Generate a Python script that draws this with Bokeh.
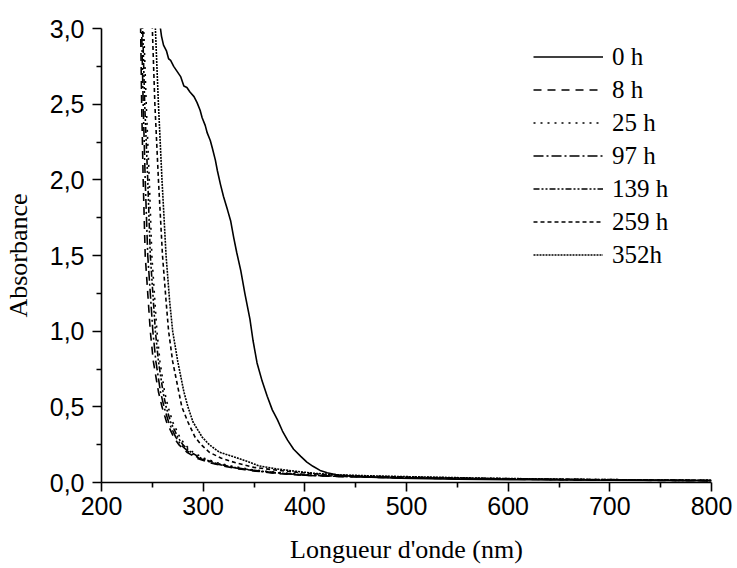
from bokeh.plotting import figure
from bokeh.models import Legend, LegendItem, FixedTicker, CustomJSTickFormatter, Range1d
from bokeh.embed import file_html
from bokeh.resources import INLINE

# ---- data ----
series_names = ["0 h", "8 h", "25 h", "97 h", "139 h", "259 h", "352h"]

wl_0h = [254, 258, 259, 261, 264, 266, 268, 271, 274, 276, 278, 279, 281, 284, 287, 291, 294, 297, 299, 302,
         304, 307, 309, 312, 314, 317, 320, 324, 327, 330, 333, 337, 341, 346, 349, 353, 358, 363, 368, 373,
         378, 383, 389, 396, 402, 408, 415, 422, 432, 445, 465, 494, 550, 620, 700, 800]
abs_0h = [3.3, 3.0, 2.95, 2.89, 2.85, 2.80, 2.79, 2.75, 2.72, 2.70, 2.68, 2.66, 2.62, 2.61, 2.58, 2.55, 2.51, 2.46, 2.41, 2.36,
          2.31, 2.26, 2.21, 2.13, 2.06, 1.97, 1.89, 1.80, 1.73, 1.62, 1.52, 1.40, 1.25, 1.08, 0.94, 0.79, 0.67, 0.57, 0.48, 0.415,
          0.34, 0.28, 0.22, 0.173, 0.135, 0.107, 0.08, 0.064, 0.05, 0.042, 0.035, 0.028, 0.022, 0.018, 0.015, 0.012]

wl_8h = [235, 238.5, 239.5, 241, 243, 246, 248, 251, 256, 259.5, 264, 271, 276, 284, 294, 307, 319, 335, 352, 375,
         400, 430, 470, 520, 580, 650, 720, 800]
abs_8h = [3.3, 3.0, 2.5, 2.0, 1.5, 1.2, 1.0, 0.8, 0.6, 0.5, 0.4, 0.3, 0.25, 0.2, 0.16, 0.13, 0.11, 0.09, 0.075, 0.058,
          0.047, 0.04, 0.034, 0.028, 0.023, 0.019, 0.015, 0.012]

wl_25h = [238, 241.5, 244, 247, 249.5, 252.5, 254.5, 257.5, 262, 265.5, 270, 277, 282, 290, 301, 314, 327, 343, 360, 382,
          400, 430, 470, 520, 580, 650, 720, 800]
abs_25h = [3.3, 3.0, 2.5, 2.0, 1.5, 1.2, 1.0, 0.8, 0.6, 0.5, 0.4, 0.3, 0.25, 0.2, 0.16, 0.13, 0.11, 0.09, 0.075, 0.062,
           0.053, 0.044, 0.037, 0.031, 0.026, 0.021, 0.017, 0.014]

wl_97h = [236, 239.5, 241, 243, 245.5, 248.5, 250.5, 253.5, 258, 261.5, 266, 273, 278, 286, 296, 309, 321, 337, 354, 377,
          400, 430, 470, 520, 580, 650, 720, 800]
abs_97h = [3.3, 3.0, 2.5, 2.0, 1.5, 1.2, 1.0, 0.8, 0.6, 0.5, 0.4, 0.3, 0.25, 0.2, 0.16, 0.13, 0.11, 0.09, 0.075, 0.06,
           0.049, 0.041, 0.035, 0.029, 0.024, 0.02, 0.016, 0.013]

wl_139h = [237, 240.5, 242.5, 245.5, 248, 251, 253, 256, 260.5, 263.5, 268, 275, 280, 288, 298, 311, 323, 339, 356, 379,
           400, 430, 470, 520, 580, 650, 720, 800]
abs_139h = [3.3, 3.0, 2.5, 2.0, 1.5, 1.2, 1.0, 0.8, 0.6, 0.5, 0.4, 0.3, 0.25, 0.2, 0.16, 0.13, 0.11, 0.09, 0.075, 0.06,
            0.05, 0.042, 0.036, 0.03, 0.025, 0.02, 0.016, 0.013]

wl_259h = [247, 250, 252.5, 256, 260, 263.5, 266, 270, 276, 279, 285, 292, 298, 306, 318, 332, 350, 368, 395, 425,
           460, 510, 570, 640, 720, 800]
abs_259h = [3.3, 3.0, 2.5, 2.0, 1.5, 1.2, 1.0, 0.8, 0.6, 0.5, 0.4, 0.3, 0.25, 0.2, 0.16, 0.13, 0.1, 0.085, 0.065, 0.05,
            0.042, 0.035, 0.028, 0.022, 0.018, 0.014]

wl_352h = [250, 253, 256, 259.5, 263.5, 267, 270, 275, 281, 285, 290, 299, 306, 316, 330, 343, 355, 372, 390, 410,
           435, 470, 520, 580, 650, 720, 800]
abs_352h = [3.3, 3.0, 2.5, 2.0, 1.5, 1.2, 1.0, 0.8, 0.6, 0.5, 0.4, 0.3, 0.25, 0.2, 0.17, 0.14, 0.11, 0.09, 0.075, 0.06,
            0.05, 0.043, 0.036, 0.028, 0.022, 0.018, 0.014]

x_ticks = [200, 300, 400, 500, 600, 700, 800]
x_minor = [250, 350, 450, 550, 650, 750]
y_ticks = [0.0, 0.5, 1.0, 1.5, 2.0, 2.5, 3.0]
y_minor = [0.25, 0.75, 1.25, 1.75, 2.25, 2.75]

# ---- styles ----
dashes = ["solid", "8 6", "2 5", "10 3 2 3", "6 2 2 2 2 2", "4 3", "2 1"]
all_wl = [wl_0h, wl_8h, wl_25h, wl_97h, wl_139h, wl_259h, wl_352h]
all_abs = [abs_0h, abs_8h, abs_25h, abs_97h, abs_139h, abs_259h, abs_352h]

p = figure(width=737, height=566, output_backend="svg", toolbar_location=None,
           x_range=Range1d(200, 800), y_range=Range1d(0, 3.0),
           min_border_left=101, min_border_right=26, min_border_top=28, min_border_bottom=83)
p.outline_line_color = None
p.xgrid.visible = False
p.ygrid.visible = False
p.background_fill_color = "white"

items = []
for name, xs, ys, d in zip(series_names, all_wl, all_abs, dashes):
    r = p.line(xs, ys, line_color="black", line_width=1.6, line_dash=d)
    items.append(LegendItem(label=name, renderers=[r]))

legend = Legend(items=items, location=(432, 211), border_line_alpha=0, background_fill_alpha=0,
                padding=0, margin=0, spacing=0, glyph_width=70, glyph_height=33, label_height=33,
                label_standoff=9, label_text_font="Liberation Serif", label_text_font_size="25px",
                label_text_color="black")
p.add_layout(legend, "center")

for ax in (p.xaxis[0], p.yaxis[0]):
    ax.axis_line_color = "black"
    ax.axis_line_width = 1.6
    ax.major_tick_line_color = "black"
    ax.major_tick_line_width = 1.6
    ax.minor_tick_line_color = "black"
    ax.minor_tick_line_width = 1.6
    ax.major_tick_in = 0
    ax.major_tick_out = 9
    ax.minor_tick_in = 0
    ax.minor_tick_out = 5
    ax.major_label_text_font = "Liberation Sans"
    ax.major_label_text_font_size = "25px"
    ax.major_label_text_color = "black"
    ax.axis_label_text_font = "Liberation Serif"
    ax.axis_label_text_font_size = "26px"
    ax.axis_label_text_font_style = "normal"
    ax.axis_label_text_color = "black"

p.xaxis.ticker = FixedTicker(ticks=x_ticks, minor_ticks=x_minor)
p.yaxis.ticker = FixedTicker(ticks=y_ticks, minor_ticks=y_minor)
p.yaxis.formatter = CustomJSTickFormatter(code="return tick.toFixed(1).replace('.', ',');")
p.xaxis.axis_label = "Longueur d'onde (nm)"
p.yaxis.axis_label = "Absorbance"
p.xaxis.major_label_standoff = 5
p.yaxis.major_label_standoff = 8
p.xaxis.axis_label_standoff = 17
p.yaxis.axis_label_standoff = 14

open("out.html", "w").write(file_html(p, INLINE))
